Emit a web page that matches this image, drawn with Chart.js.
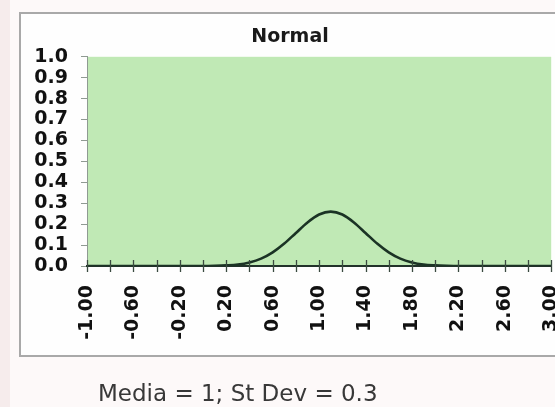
<!DOCTYPE html>
<html>
<head>
<meta charset="utf-8">
<script src="https://cdn.jsdelivr.net/npm/chart.js@4"></script>
<style>
  html, body { margin: 0; padding: 0; }
  body { width: 555px; height: 407px; overflow: hidden; background: #fdf9f9; position: relative; }
  .strip { position: absolute; left: 0; top: 0; width: 10px; height: 407px; background: #f6ecec; }
  .frame { position: absolute; left: 19px; top: 12px; width: 570px; height: 345px;
           border: 2px solid #a9a9a9; background: #fefefe; box-sizing: border-box; }
  #chart { position: absolute; left: 0; top: 0; }
  .note { position: absolute; left: 98px; top: 382px; font: 23px/23px "DejaVu Sans", sans-serif;
          color: #383838; white-space: nowrap; }
</style>
</head>
<body>
<div class="strip"></div>
<div class="frame"></div>
<canvas id="chart" width="593" height="407"></canvas>
<div class="note">Media = 1; St Dev = 0.3</div>
<script>
// Curve samples (x every 0.1)
const xValues = [
  -1.0, -0.9, -0.8, -0.7, -0.6, -0.5, -0.4, -0.3, -0.2, -0.1,
   0.0,  0.1,  0.2,  0.3,  0.4,  0.5,  0.6,  0.7,  0.8,  0.9,
   1.0,  1.1,  1.2,  1.3,  1.4,  1.5,  1.6,  1.7,  1.8,  1.9,
   2.0,  2.1,  2.2,  2.3,  2.4,  2.5,  2.6,  2.7,  2.8,  2.9, 3.0
];
const yValues = [
  0, 0, 0, 0, 0, 0, 0, 0, 0, 0,
  0, 0.001, 0.003, 0.007, 0.017, 0.035, 0.065, 0.107, 0.158, 0.208,
  0.246, 0.260, 0.246, 0.208, 0.158, 0.107, 0.065, 0.035, 0.017, 0.007,
  0.003, 0.001, 0, 0, 0, 0, 0, 0, 0, 0, 0
];

// Axis ticks
const xTickValues = [
  -1.0, -0.8, -0.6, -0.4, -0.2, 0.0, 0.2, 0.4, 0.6, 0.8,
   1.0,  1.2,  1.4,  1.6,  1.8, 2.0, 2.2, 2.4, 2.6, 2.8, 3.0
];
const xTickLabels = [
  '-1.00', '', '-0.60', '', '-0.20', '', '0.20', '', '0.60', '',
  '1.00', '', '1.40', '', '1.80', '', '2.20', '', '2.60', '', '3.00'
];
const yTickLabels = ['0.0','0.1','0.2','0.3','0.4','0.5','0.6','0.7','0.8','0.9','1.0'];

// Light green plot area
const plotBackground = {
  id: 'plotBackground',
  beforeDraw(chart) {
    const { ctx, chartArea: a } = chart;
    ctx.save();
    ctx.fillStyle = '#c0e9b5';
    ctx.fillRect(a.left, a.top, a.right - a.left, a.bottom - a.top);
    ctx.restore();
  }
};

// Tick marks crossing the horizontal axis
const crossTicks = {
  id: 'crossTicks',
  afterDatasetsDraw(chart) {
    const { ctx, chartArea: a } = chart;
    const xs = chart.scales.x;
    ctx.save();
    ctx.strokeStyle = '#3a4a40';
    ctx.lineWidth = 1.3;
    xTickValues.forEach(v => {
      const px = Math.round(xs.getPixelForValue(v)) + 0.5;
      ctx.beginPath();
      ctx.moveTo(px, a.bottom - 6);
      ctx.lineTo(px, a.bottom + 6);
      ctx.stroke();
    });
    ctx.restore();
  }
};

new Chart(document.getElementById('chart'), {
  type: 'line',
  data: {
    datasets: [{
      data: xValues.map((x, i) => ({ x: x, y: yValues[i] })),
      borderColor: '#1b3325',
      borderWidth: 2.6,
      pointRadius: 0,
      fill: false,
      cubicInterpolationMode: 'monotone'
    }]
  },
  options: {
    responsive: false,
    animation: false,
    layout: { padding: { left: 20, right: 33, top: 0, bottom: 0 } },
    plugins: {
      legend: { display: false },
      tooltip: { enabled: false },
      title: {
        display: true,
        text: 'Normal',
        color: '#1a1a1a',
        font: { family: 'DejaVu Sans', size: 19, weight: 'bold' },
        padding: { top: 26, bottom: 8 }
      }
    },
    scales: {
      x: {
        type: 'linear',
        min: -1,
        max: 3,
        afterBuildTicks(scale) { scale.ticks = xTickValues.map(v => ({ value: v })); },
        afterFit(scale) { scale.height = 141; },
        ticks: {
          autoSkip: false,
          maxRotation: 90,
          minRotation: 90,
          padding: 19,
          color: '#111',
          font: { family: 'DejaVu Sans', size: 19, weight: 'bold' },
          callback: (v, i) => xTickLabels[i]
        },
        grid: { display: false, drawTicks: false },
        border: { display: true, color: '#22322a', width: 2 }
      },
      y: {
        min: 0,
        max: 1,
        afterBuildTicks(scale) { scale.ticks = yTickLabels.map(t => ({ value: parseFloat(t) })); },
        afterFit(scale) { scale.width = 67; },
        ticks: {
          autoSkip: false,
          padding: 13,
          color: '#111',
          font: { family: 'DejaVu Sans', size: 19, weight: 'bold' },
          callback: (v, i) => yTickLabels[i]
        },
        grid: { drawOnChartArea: false, tickLength: 6, color: '#8f9a92' },
        border: { color: '#8f9a92', dash: [3, 3], width: 1 }
      }
    }
  },
  plugins: [plotBackground, crossTicks]
});
</script>
</body>
</html>
